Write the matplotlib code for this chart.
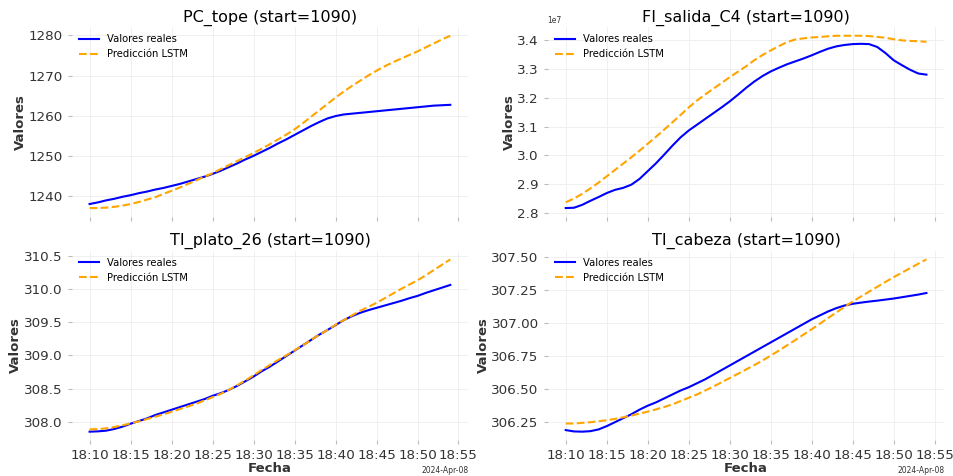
import matplotlib
matplotlib.use("Agg")
import matplotlib.pyplot as plt
import matplotlib.dates as mdates
import pandas as pd

# timestamps: one sample per minute, 18:10 .. 18:54
fechas = pd.date_range("2024-04-08 18:10", "2024-04-08 18:54", freq="1min")

pc_tope_real = [1238.0, 1238.4, 1238.9, 1239.3, 1239.8, 1240.2, 1240.7, 1241.1, 1241.6, 1242.0,
                1242.5, 1243.0, 1243.6, 1244.2, 1244.8, 1245.5, 1246.3, 1247.2, 1248.1, 1249.1,
                1250.0, 1251.0, 1252.0, 1253.1, 1254.1, 1255.2, 1256.3, 1257.4, 1258.4, 1259.3,
                1259.9, 1260.3, 1260.5, 1260.7, 1260.9, 1261.1, 1261.3, 1261.5, 1261.7, 1261.9,
                1262.1, 1262.3, 1262.5, 1262.6, 1262.7]
pc_tope_pred = [1237.0, 1237.0, 1237.1, 1237.3, 1237.6, 1238.0, 1238.5, 1239.1, 1239.7, 1240.5,
                1241.3, 1242.1, 1243.0, 1243.9, 1244.8, 1245.7, 1246.7, 1247.7, 1248.7, 1249.7,
                1250.7, 1251.8, 1252.9, 1254.1, 1255.3, 1256.6, 1258.1, 1259.7, 1261.3, 1262.9,
                1264.5, 1266.0, 1267.4, 1268.7, 1270.0, 1271.2, 1272.3, 1273.3, 1274.2, 1275.1,
                1276.0, 1277.0, 1278.0, 1279.0, 1279.9]

# FI_salida_C4 in units of 1e7
fi_salida_real = [2.817, 2.818, 2.828, 2.842, 2.855, 2.869, 2.880, 2.887, 2.898, 2.918,
                  2.945, 2.972, 3.002, 3.033, 3.062, 3.086, 3.106, 3.126, 3.146, 3.166,
                  3.187, 3.210, 3.234, 3.256, 3.275, 3.291, 3.304, 3.316, 3.326, 3.336,
                  3.347, 3.359, 3.370, 3.378, 3.383, 3.386, 3.387, 3.386, 3.376, 3.355,
                  3.330, 3.313, 3.297, 3.284, 3.280]
fi_salida_pred = [2.837, 2.850, 2.866, 2.885, 2.905, 2.927, 2.949, 2.971, 2.993, 3.016,
                  3.040, 3.064, 3.089, 3.114, 3.140, 3.166, 3.190, 3.211, 3.231, 3.251,
                  3.271, 3.290, 3.309, 3.330, 3.348, 3.364, 3.379, 3.393, 3.402, 3.406,
                  3.409, 3.411, 3.413, 3.415, 3.415, 3.415, 3.415, 3.414, 3.411, 3.408,
                  3.403, 3.399, 3.397, 3.396, 3.394]

ti_plato_real = [307.85, 307.855, 307.865, 307.89, 307.925, 307.97, 308.01, 308.05, 308.10, 308.14,
                 308.18, 308.22, 308.26, 308.30, 308.34, 308.39, 308.43, 308.48, 308.54, 308.61,
                 308.68, 308.76, 308.83, 308.91, 308.99, 309.07, 309.15, 309.23, 309.31, 309.38,
                 309.455, 309.53, 309.59, 309.64, 309.68, 309.715, 309.75, 309.785, 309.82, 309.86,
                 309.895, 309.94, 309.98, 310.02, 310.06]
ti_plato_pred = [307.885, 307.89, 307.90, 307.92, 307.945, 307.975, 308.005, 308.04, 308.075, 308.11,
                 308.15, 308.19, 308.23, 308.27, 308.32, 308.37, 308.42, 308.48, 308.55, 308.62,
                 308.70, 308.78, 308.855, 308.93, 309.00, 309.075, 309.15, 309.23, 309.31, 309.38,
                 309.46, 309.53, 309.60, 309.67, 309.73, 309.79, 309.86, 309.93, 310.00, 310.065,
                 310.13, 310.205, 310.285, 310.365, 310.445]

ti_cabeza_real = [306.19, 306.18, 306.178, 306.182, 306.195, 306.22, 306.25, 306.28, 306.31, 306.345,
                  306.375, 306.40, 306.43, 306.46, 306.49, 306.515, 306.545, 306.575, 306.61, 306.645,
                  306.68, 306.715, 306.75, 306.785, 306.82, 306.855, 306.89, 306.925, 306.96, 306.995,
                  307.03, 307.06, 307.09, 307.115, 307.135, 307.148, 307.157, 307.165, 307.172, 307.18,
                  307.188, 307.198, 307.208, 307.218, 307.23]
ti_cabeza_pred = [306.24, 306.24, 306.245, 306.25, 306.257, 306.265, 306.275, 306.287, 306.30, 306.315,
                  306.33, 306.347, 306.365, 306.385, 306.41, 306.435, 306.46, 306.49, 306.52, 306.552,
                  306.585, 306.617, 306.65, 306.683, 306.718, 306.755, 306.793, 306.833, 306.873, 306.914,
                  306.955, 306.997, 307.04, 307.082, 307.124, 307.165, 307.203, 307.24, 307.277, 307.314,
                  307.35, 307.384, 307.418, 307.452, 307.485]

variables = ["PC_tope", "FI_salida_C4", "TI_plato_26", "TI_cabeza"]
reales = [pc_tope_real, [v * 1e7 for v in fi_salida_real], ti_plato_real, ti_cabeza_real]
predicciones = [pc_tope_pred, [v * 1e7 for v in fi_salida_pred], ti_plato_pred, ti_cabeza_pred]

fig, axes = plt.subplots(2, 2, figsize=(9.54, 4.76), dpi=100, sharex=True)
fig.subplots_adjust(left=0.075, right=0.99, top=0.943, bottom=0.075, wspace=0.2, hspace=0.18)

for ax, nombre, real, pred in zip(axes.flat, variables, reales, predicciones):
    ax.plot(fechas, real, color="blue", lw=1.5, label="Valores reales")
    ax.plot(fechas, pred, color="orange", lw=1.5, ls="--", label="Predicción LSTM")
    ax.set_title(f"{nombre} (start=1090)", fontsize=11.5, pad=4)
    ax.set_ylabel("Valores", fontsize=9.5, fontweight="bold", color="#333333", labelpad=1)
    ax.grid(True, color="#eeeeee", lw=0.6)
    for s in ax.spines.values():
        s.set_visible(False)
    ax.tick_params(labelsize=9.7, colors="#bbbbbb", labelcolor="#333333", length=3, width=0.8)
    ax.yaxis.get_offset_text().set_fontsize(5.5)
    ax.legend(loc="upper left", fontsize=7.2, frameon=False, borderaxespad=0.3)

locator = mdates.MinuteLocator(byminute=range(0, 60, 5))
formatter = mdates.ConciseDateFormatter(locator)
for ax in axes[1]:
    ax.xaxis.set_major_locator(locator)
    ax.xaxis.set_major_formatter(formatter)
    ax.set_xlabel("Fecha", fontsize=9.5, fontweight="bold", color="#333333", labelpad=0)
    ax.xaxis.get_offset_text().set_fontsize(5.5)

fig.savefig("out.png", dpi=100)
